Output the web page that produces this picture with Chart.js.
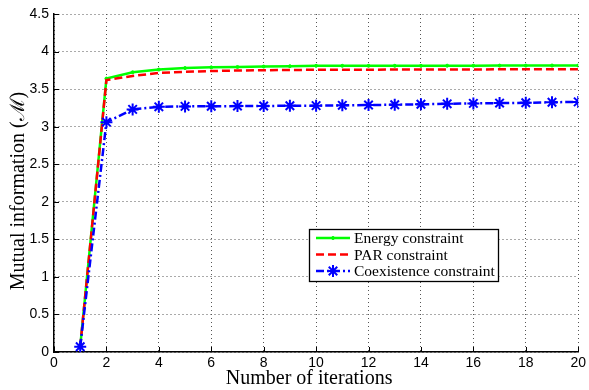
<!DOCTYPE html>
<html>
<head>
<meta charset="utf-8">
<script src="https://cdn.jsdelivr.net/npm/chart.js@4/dist/chart.umd.min.js"></script>
<style>
  html, body { margin: 0; padding: 0; background: #fff; }
  #wrap { width: 589px; height: 390px; }
</style>
</head>
<body>
<div id="wrap"><canvas id="c" width="589" height="390"></canvas></div>
<script>
// iteraciones 1..20
const iterations = [1, 2, 3, 4, 5, 6, 7, 8, 9, 10, 11, 12, 13, 14, 15, 16, 17, 18, 19, 20];
const energyMI = [0.07, 3.64, 3.725, 3.76, 3.78, 3.79, 3.795, 3.80, 3.805, 3.81, 3.81, 3.81, 3.81, 3.81, 3.812, 3.812, 3.813, 3.813, 3.814, 3.814];
const parMI    = [0.07, 3.62, 3.676, 3.715, 3.73, 3.74, 3.748, 3.752, 3.755, 3.757, 3.758, 3.759, 3.76, 3.76, 3.761, 3.762, 3.763, 3.764, 3.764, 3.765];
const coexMI   = [0.07, 3.06, 3.23, 3.264, 3.27, 3.272, 3.274, 3.276, 3.278, 3.28, 3.284, 3.288, 3.292, 3.298, 3.304, 3.31, 3.314, 3.318, 3.325, 3.33];
const xTicks = [0, 2, 4, 6, 8, 10, 12, 14, 16, 18, 20];
const yTicks = [0, 0.5, 1, 1.5, 2, 2.5, 3, 3.5, 4, 4.5];
const seriesNames = ['Energy constraint', 'PAR constraint', 'Coexistence constraint'];
const xTitle = 'Number of iterations';
const yTitle = 'Mutual information (ℳ)';

const pts = (ys) => iterations.map((x, i) => ({ x, y: ys[i] }));
const SANS = '"Liberation Sans", Arial, sans-serif';
const SERIF = '"Liberation Serif", "Times New Roman", serif';

// ticks hacia dentro, estilo Matlab
const inwardTicks = {
  id: 'inwardTicks',
  afterDatasetsDraw(chart) {
    const { ctx, chartArea: a, scales: { x, y } } = chart;
    ctx.save();
    ctx.strokeStyle = '#000'; ctx.lineWidth = 1;
    ctx.beginPath();
    xTicks.forEach(v => { const p = Math.round(x.getPixelForValue(v)) + 0.5; ctx.moveTo(p, a.bottom); ctx.lineTo(p, a.bottom - 5); });
    yTicks.forEach(v => { const p = Math.round(y.getPixelForValue(v)) + 0.5; ctx.moveTo(a.left, p); ctx.lineTo(a.left + 5, p); });
    ctx.stroke();
    ctx.restore();
  },
};

// títulos de ejes (posición como en Matlab)
const axisTitles = {
  id: 'axisTitles',
  afterDraw(chart) {
    const { ctx, chartArea: a } = chart;
    ctx.save();
    ctx.fillStyle = '#000';
    ctx.font = '20px ' + SERIF;
    ctx.textAlign = 'center';
    ctx.textBaseline = 'middle';
    ctx.fillText(xTitle, (a.left + a.right) / 2 - 7, 379);
    ctx.translate(19, (a.top + a.bottom) / 2 + 8);
    ctx.rotate(-Math.PI / 2);
    ctx.fillText(yTitle, 0, 0);
    ctx.restore();
  },
};

// leyenda dentro del área de gráfico
const boxLegend = {
  id: 'boxLegend',
  afterDraw(chart) {
    const { ctx, chartArea: a } = chart;
    const L = a.left + 255, T = a.top + 215, W = 189, H = 52;
    ctx.save();
    ctx.fillStyle = '#fff';
    ctx.fillRect(L, T, W, H);
    ctx.strokeStyle = '#000'; ctx.lineWidth = 1.3;
    ctx.strokeRect(L + 0.5, T + 0.5, W, H);
    chart.data.datasets.forEach((ds, i) => {
      const cy = T + 9 + i * 16.5;
      ctx.strokeStyle = ds.borderColor;
      ctx.lineWidth = ds.borderWidth;
      ctx.setLineDash(ds.borderDash || []);
      ctx.beginPath(); ctx.moveTo(L + 7, cy); ctx.lineTo(L + 41, cy); ctx.stroke();
      ctx.setLineDash([]);
      if (ds.pointRadius > 0) {
        ctx.fillStyle = ds.borderColor;
        ctx.strokeStyle = ds.borderColor;
        ctx.lineWidth = ds.pointBorderWidth;
        Chart.helpers.drawPoint(ctx, { pointStyle: ds.pointStyle, radius: ds.pointRadius, borderWidth: ds.pointBorderWidth }, L + 24, cy);
      }
      ctx.fillStyle = '#000';
      ctx.font = '15.5px ' + SERIF;
      ctx.textBaseline = 'middle';
      ctx.fillText(seriesNames[i], L + 45, cy + 1);
    });
    ctx.restore();
  },
};

new Chart(document.getElementById('c').getContext('2d'), {
  type: 'line',
  data: {
    datasets: [
      {
        label: seriesNames[0], data: pts(energyMI),
        borderColor: '#00ff00', backgroundColor: '#00ff00', borderWidth: 2.5,
        pointStyle: 'circle', pointRadius: 1.5, pointBorderWidth: 1, order: 3,
      },
      {
        label: seriesNames[1], data: pts(parMI),
        borderColor: '#ff0000', backgroundColor: '#ff0000', borderWidth: 2.5, borderDash: [8, 4],
        pointRadius: 0, order: 2,
      },
      {
        label: seriesNames[2], data: pts(coexMI),
        borderColor: '#0000ff', backgroundColor: '#0000ff', borderWidth: 2.5, borderDash: [8, 3, 2, 3],
        pointStyle: 'star', pointRadius: 6, pointBorderWidth: 2, order: 1,
      },
    ],
  },
  options: {
    responsive: false, animation: false,
    layout: { padding: { left: 0, right: 7, top: 14, bottom: 0 } },
    plugins: { legend: { display: false }, tooltip: { enabled: false } },
    elements: { line: { tension: 0 } },
    scales: {
      x: {
        type: 'linear', min: 0, max: 20,
        afterBuildTicks: (s) => { s.ticks = xTicks.map(v => ({ value: v })); },
        afterFit: (s) => { s.height = 38; },
        grid: { color: '#555', lineWidth: 1, drawTicks: false },
        border: { display: true, color: '#000', width: 1.5, dash: [1, 3] },
        ticks: { color: '#000', font: { family: SANS, size: 14 }, padding: 3, maxRotation: 0, callback: (v) => String(v) },
      },
      y: {
        min: 0, max: 4.5,
        afterBuildTicks: (s) => { s.ticks = yTicks.map(v => ({ value: v })); },
        afterFit: (s) => { s.width = 54; },
        grid: { color: '#555', lineWidth: 1, drawTicks: false },
        border: { display: true, color: '#000', width: 1.5, dash: [1, 3] },
        ticks: { color: '#000', font: { family: SANS, size: 14 }, padding: 5, callback: (v) => String(v) },
      },
    },
  },
  plugins: [inwardTicks, axisTitles, boxLegend],
});
</script>
</body>
</html>
